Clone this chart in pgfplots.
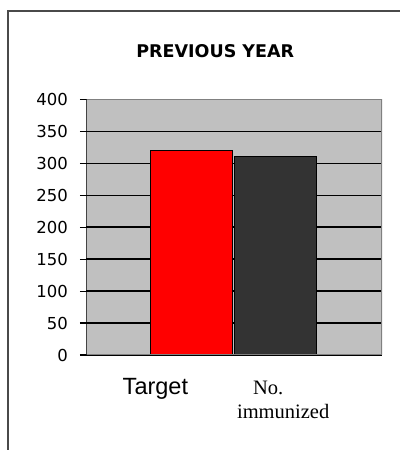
\documentclass[border=0pt]{standalone}
\usepackage{pgfplots}
\pgfplotsset{compat=1.18}
\usepackage{fontspec}
\setmainfont{Liberation Sans}
\newfontfamily\dejavu{DejaVu Sans}
\newfontfamily\timesf{Liberation Serif}
\definecolor{plotbg}{HTML}{C0C0C0}
\definecolor{edgegray}{HTML}{808080}
\definecolor{framegray}{HTML}{4A4A4A}
\definecolor{darkbar}{HTML}{333333}
\newcommand{\serlab}{\timesf\fontsize{20.5}{24}\selectfont}
\begin{document}
\begin{tikzpicture}
\useasboundingbox (0,0) rectangle (400pt,450pt);
\draw[framegray, line width=1.5pt] (8pt,0) -- (8pt,439pt) -- (400pt,439pt);
\begin{axis}[
  at={(86.5pt,95pt)}, anchor=south west,
  scale only axis, width=295.5pt, height=255.5pt,
  xmin=-1.2426, xmax=2.2604, ymin=0, ymax=400,
  axis line style={draw=none},
  axis background/.style={fill=plotbg},
  ytick={0,50,100,150,200,250,300,350,400},
  ytick pos=left, tick align=outside,
  y tick style={black, line width=1.2pt},
  major tick length=6.5pt,
  ymajorgrids=true,
  major grid style={black, line width=1.5pt},
  xtick={-0.426,1.089},
  xticklabels={{\fontsize{23.5}{24}\selectfont Target},{\serlab\begin{tabular}[t]{@{}c@{}}No.\hspace*{30pt}\\immunized\end{tabular}}},
  x tick style={draw=none},
  xticklabel style={anchor=base, yshift=-33pt},
  /pgf/number format/assume math mode=true,
  y tick label style={font=\dejavu\fontsize{16.5}{17}\selectfont, anchor=east, inner sep=0pt, xshift=-12pt},
  title={\dejavu\bfseries\fontsize{17.5}{18}\selectfont PREVIOUS YEAR},
  title style={at={(0.5,1)}, anchor=base, yshift=35.5pt, xshift=-19pt},
]
\addplot[ybar, bar shift=0pt, bar width=0.97, fill=red, draw=black, line width=1pt] coordinates {(0,320)};
\addplot[ybar, bar shift=0pt, bar width=0.97, fill=darkbar, draw=black, line width=1pt] coordinates {(1,310)};
\draw[edgegray, line width=1.5pt] (rel axis cs:0,0) -- (rel axis cs:1,0) -- (rel axis cs:1,1) -- (rel axis cs:0,1);
\draw[black, line width=1.5pt] (rel axis cs:0,0) -- (rel axis cs:0,1);
\end{axis}
\end{tikzpicture}
\end{document}
